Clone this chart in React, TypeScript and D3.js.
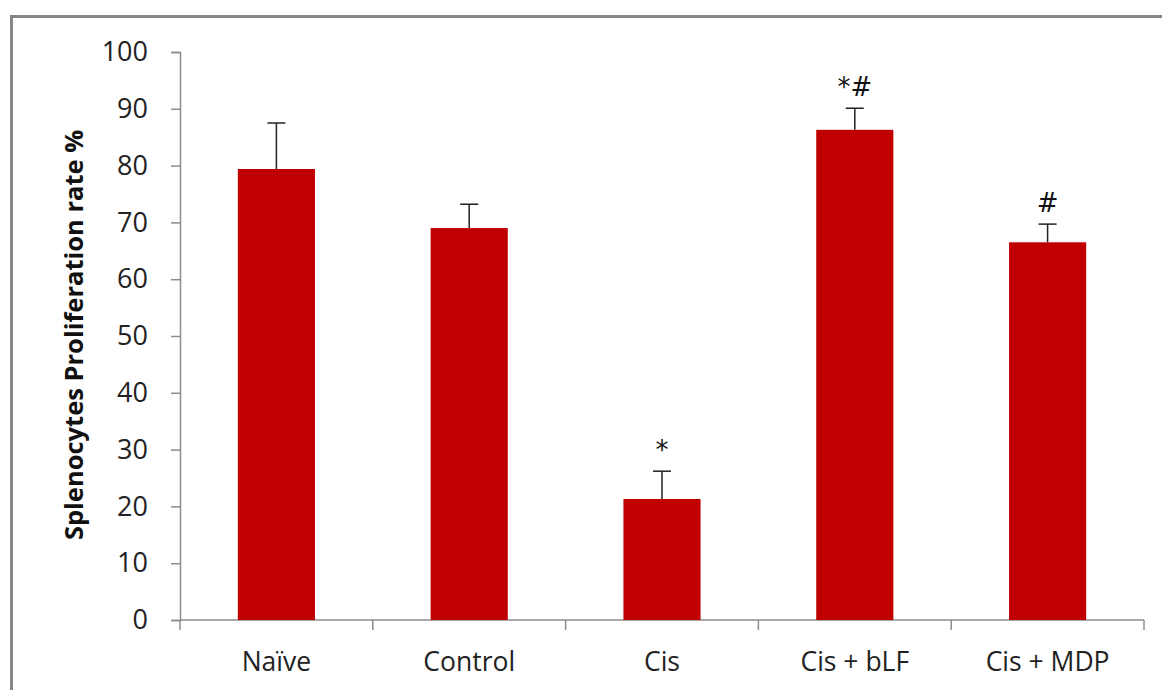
import React, { useEffect, useRef } from 'react';
import * as d3 from 'd3';

const categories = ['Naïve', 'Control', 'Cis', 'Cis + bLF', 'Cis + MDP'];
const means = [79.4, 69.0, 21.3, 86.3, 66.5];
const errors = [8.1, 4.2, 4.9, 3.8, 3.2];
const marks = ['', '', '*', '*#', '#'];
const yTicks = [0, 10, 20, 30, 40, 50, 60, 70, 80, 90, 100];

export default function App() {
  const svgRef = useRef<SVGSVGElement | null>(null);

  useEffect(() => {
    document.body.style.margin = '0';
    if (!svgRef.current) return;
    const svg = d3.select(svgRef.current);
    svg.selectAll('*').remove();

    const width = 1162;
    const height = 690;
    const margin = { top: 52, right: 18, bottom: 70, left: 180 };
    const font = '"Open Sans", sans-serif';

    // frame (only left and top edges visible in the picture)
    svg.append('rect')
      .attr('x', 11.5).attr('y', 16.5)
      .attr('width', 1200).attr('height', 720)
      .attr('fill', 'white')
      .attr('stroke', '#878787')
      .attr('stroke-width', 3);

    const x = d3.scaleBand()
      .domain(categories)
      .range([margin.left, width - margin.right])
      .paddingInner(0.6)
      .paddingOuter(0.3);

    const y = d3.scaleLinear()
      .domain([0, 100])
      .range([height - margin.bottom, margin.top]);

    const axisColor = '#8c8c8c';

    // y axis
    const yAxis = svg.append('g')
      .attr('transform', `translate(${margin.left},0)`)
      .call(d3.axisLeft(y).tickValues(yTicks).tickSize(9).tickPadding(23));
    yAxis.select('.domain').attr('stroke', axisColor).attr('stroke-width', 1.5);
    yAxis.selectAll('.tick line').attr('stroke', axisColor).attr('stroke-width', 1.5);
    yAxis.selectAll('text')
      .attr('font-family', font)
      .attr('font-size', '27px')
      .attr('fill', '#222');

    // x axis with category boundary ticks
    const step = x.step();
    const bounds = d3.range(categories.length + 1).map(i => margin.left + i * step);
    const xg = svg.append('g');
    xg.append('line')
      .attr('x1', margin.left).attr('x2', width - margin.right)
      .attr('y1', y(0)).attr('y2', y(0))
      .attr('stroke', axisColor).attr('stroke-width', 1.5);
    xg.selectAll('.bt')
      .data(bounds)
      .join('line')
      .attr('x1', d => d).attr('x2', d => d)
      .attr('y1', y(0)).attr('y2', y(0) + 10)
      .attr('stroke', axisColor).attr('stroke-width', 1.5);
    xg.selectAll('.cl')
      .data(categories)
      .join('text')
      .attr('x', d => (x(d) as number) + x.bandwidth() / 2)
      .attr('y', y(0) + 51)
      .attr('text-anchor', 'middle')
      .attr('font-family', font)
      .attr('font-size', '26.5px')
      .attr('fill', '#222')
      .text(d => d);

    // y label
    svg.append('text')
      .attr('transform', `translate(83,${(y(0) + y(100)) / 2 - 1}) rotate(-90)`)
      .attr('text-anchor', 'middle')
      .attr('font-family', font)
      .attr('font-size', '25.5px')
      .attr('font-weight', 'bold')
      .attr('fill', '#111')
      .text('Splenocytes Proliferation rate %');

    // bars
    svg.selectAll('.bar')
      .data(categories)
      .join('rect')
      .attr('x', d => x(d) as number)
      .attr('y', (d, i) => y(means[i]))
      .attr('width', x.bandwidth())
      .attr('height', (d, i) => y(0) - y(means[i]))
      .attr('fill', '#c00000');

    // error bars
    const cx = (d: string) => (x(d) as number) + x.bandwidth() / 2;
    svg.selectAll('.err')
      .data(categories)
      .join('line')
      .attr('x1', cx).attr('x2', cx)
      .attr('y1', (d, i) => y(means[i]))
      .attr('y2', (d, i) => y(means[i] + errors[i]))
      .attr('stroke', '#222').attr('stroke-width', 1.5);
    svg.selectAll('.cap')
      .data(categories)
      .join('line')
      .attr('x1', d => cx(d) - 9).attr('x2', d => cx(d) + 9)
      .attr('y1', (d, i) => y(means[i] + errors[i]))
      .attr('y2', (d, i) => y(means[i] + errors[i]))
      .attr('stroke', '#222').attr('stroke-width', 1.5);

    // significance marks
    svg.selectAll('.mark')
      .data(categories)
      .join('text')
      .attr('x', cx)
      .attr('y', (d, i) => y(means[i] + errors[i]) - 12)
      .attr('text-anchor', 'middle')
      .attr('font-family', '"DejaVu Sans", sans-serif')
      .attr('font-size', '26px')
      .attr('fill', '#111')
      .text((d, i) => marks[i]);
  }, []);

  return <svg ref={svgRef} width={1162} height={690} style={{ display: 'block' }} />;
}
